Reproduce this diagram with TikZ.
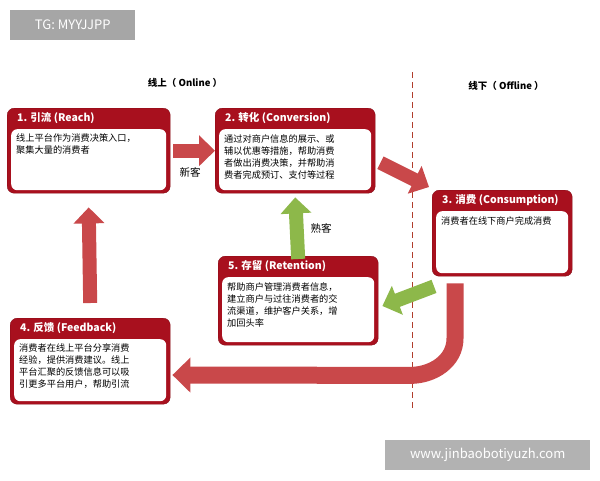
\documentclass[tikz,border=0pt]{standalone}
\usepackage{fontspec}
\setmainfont{Noto Sans CJK SC}
\usetikzlibrary{positioning,arrows.meta}
\definecolor{boxred}{HTML}{A8101E}
\definecolor{arrred}{HTML}{C9484A}
\definecolor{arrgreen}{HTML}{8DB84A}
\tikzstyle{stage}=[fill=boxred,draw=boxred!80!black,rounded corners=7pt,inner sep=0pt,anchor=north west]
\tikzstyle{inner}=[fill=white,rounded corners=6pt,inner sep=0pt,anchor=south]
\tikzstyle{head}=[text=white,font=\fontsize{10.5}{12}\selectfont\bfseries,anchor=north west,inner sep=0pt]
\tikzstyle{body}=[font=\fontsize{9.2}{12}\selectfont,align=left,anchor=north west,inner sep=0pt]
\tikzstyle{fatarrow}=[line width=14pt,-{Triangle[length=16pt,width=30pt]}]
\tikzstyle{wmark}=[fill=gray!70,text=white,font=\fontsize{13}{15}\selectfont,inner sep=0pt,anchor=north west]

\begin{document}
\begin{tikzpicture}[x=1pt,y=-1pt]
\useasboundingbox[fill=white] (0,0) rectangle (600,480);

% stage boxes
\foreach \x/\y/\w/\h/\name/\head/\tw/\body in {
  7/108/163/85/reach/{1. 引流 (Reach)}/150/{线上平台作为消费决策入口，\\聚集大量的消费者},
  215/108/160/85/conv/{2. 转化 (Conversion)}/150/{通过对商户信息的展示、或\\辅以优惠等措施，帮助消费\\者做出消费决策，并帮助消\\费者完成预订、支付等过程},
  432/190/140/86/cons/{3. 消费 (Consumption)}/130/{消费者在线下商户完成消费},
  218/256/160/89/ret/{5. 存留 (Retention)}/150/{帮助商户管理消费者信息，\\建立商户与过往消费者的交\\流渠道，维护客户关系，增\\加回头率},
  10/318/160/86/feed/{4. 反馈 (Feedback)}/150/{消费者在线上平台分享消费\\经验，提供消费建议。线上\\平台汇聚的反馈信息可以吸\\引更多平台用户，帮助引流}}
{
  \node[stage,minimum width=\w,minimum height=\h] (\name) at (\x,\y) {};
  \node[inner,minimum width=\w-8,minimum height=\h-24] (\name-in) at ([yshift=3]\name.south) {};
  \node[head] at ([xshift=10,yshift=-4]\name.north west) {\head};
  \node[body,text width=\tw] at ([xshift=5,yshift=-5]\name-in.north west) {\body};
}

% online / offline
\draw[boxred!60!brown,dash pattern=on 6pt off 4pt,line width=0.9pt] (412,72) -- (412,408);
\node[font=\fontsize{9.5}{11}\selectfont\bfseries] (online) at (185,83) {线上（ Online ）};
\node[font=\fontsize{9.5}{11}\selectfont\bfseries] (offline) at (506,86) {线下（ Offline ）};

% connectors
\coordinate (r1) at ([xshift=3]reach.east);
\coordinate (c1) at ([xshift=5,yshift=-12]conv.east);
\coordinate (c3) at ([xshift=-3,yshift=3]cons.north west);
\coordinate (c4) at ([xshift=2,yshift=-10]cons.south west);
\coordinate (c5) at ([xshift=4,yshift=-50]ret.north east);
\draw[fatarrow,arrred] (r1) -- (conv.west);
\node[font=\fontsize{10.5}{12}\selectfont] (newc) at (190,172) {新客};
\draw[fatarrow,arrred] (c1) -- (c3);
\draw[fatarrow,arrgreen] (c4) -- (c5);
\draw[fatarrow,arrgreen] ([yshift=-3]ret.north) -- ([yshift=-4]conv.south);
\node[font=\fontsize{10.5}{12}\selectfont] (oldc) at (321,228) {熟客};
\draw[fatarrow,arrred] ([yshift=15]feed.north) -- ([yshift=-14]reach.south);
\draw[line width=17pt,arrred,-{Triangle[length=18pt,width=34pt]}]
  ([xshift=23,yshift=-7]cons.south west) -- ++(0,55) to[out=-90,in=0] ++(-45,37) -- ([xshift=2]feed.east |- 0,375);

% watermarks
\node[wmark,minimum width=125,minimum height=30] (tg) at (10,10) {TG: MYYJJPP};
\node[wmark,minimum width=205,minimum height=30,fill=gray!60] (site) at (385,440) {www.jinbaobotiyuzh.com};
\end{tikzpicture}
\end{document}
